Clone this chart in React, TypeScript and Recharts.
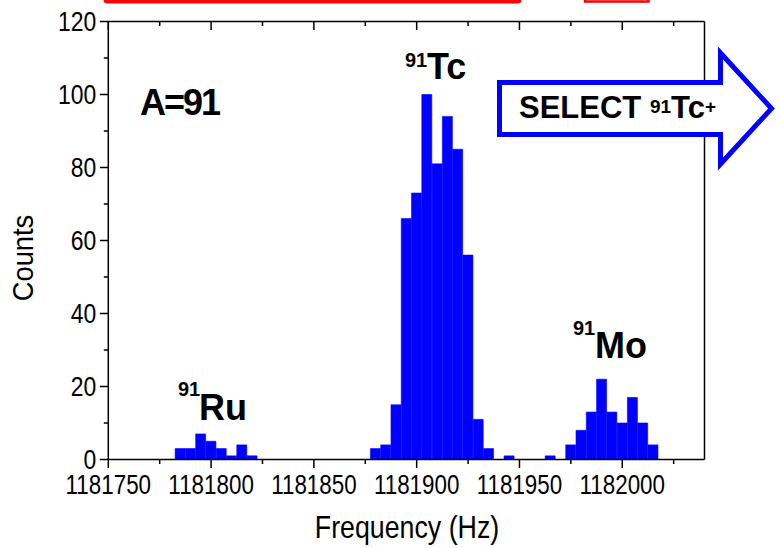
import { BarChart, Bar, XAxis, YAxis } from 'recharts';

// histogram bins (bin centre, Hz) and counts
const binFreqs = [
  1181785, 1181790, 1181795, 1181800, 1181805, 1181810, 1181815, 1181820,
  1181880, 1181885, 1181890, 1181895, 1181900, 1181905, 1181910, 1181915,
  1181920, 1181925, 1181930, 1181935,
  1181945, 1181965,
  1181975, 1181980, 1181985, 1181990, 1181995, 1182000, 1182005, 1182010, 1182015,
];
const binCounts = [
  3, 3, 7, 5, 3, 1, 4, 1,
  3, 4, 15, 66, 73, 100, 81, 94,
  85, 56, 11, 3,
  1, 1,
  4, 8, 13, 22, 13, 10, 17, 10, 4,
];

const xTicks = [
  1181750, 1181775, 1181800, 1181825, 1181850, 1181875, 1181900,
  1181925, 1181950, 1181975, 1182000, 1182025,
];
const xLabelled = [1181750, 1181800, 1181850, 1181900, 1181950, 1182000];
const yTicks = [0, 10, 20, 30, 40, 50, 60, 70, 80, 90, 100, 110, 120];
const yLabelled = [0, 20, 40, 60, 80, 100, 120];

const data = binFreqs.map((f, i) => ({ freq: f, count: binCounts[i] }));

const ARIAL = "'Liberation Sans', Arial, sans-serif";
const BLUE = '#0000ff';

// tick with major/minor length; the figure uses a narrow face for the numbers,
// so the regular face is squeezed horizontally
function makeTick(side: 'bottom' | 'top' | 'left' | 'right', labelled: number[]) {
  return (props: any) => {
    const { x, y, payload } = props;
    const major = labelled.includes(payload.value);
    const len = major ? 8.5 : 4.5;
    let line;
    if (side === 'bottom' || side === 'top') line = <line x1={x} x2={x} y1={y} y2={y + len} />;
    else line = <line x1={x} x2={x - len} y1={y} y2={y} />;
    return (
      <g stroke="#000" strokeWidth={1.5}>
        {line}
        {side === 'bottom' && major && (
          <text
            transform={`translate(${x},${y + 34}) scale(0.8,1)`}
            textAnchor="middle"
            fontSize={28}
            fontFamily={ARIAL}
            fill="#000"
            stroke="none"
          >
            {payload.value}
          </text>
        )}
        {side === 'left' && major && (
          <text
            transform={`translate(${x - 12},${y + 9}) scale(0.85,1)`}
            textAnchor="end"
            fontSize={27}
            fontFamily={ARIAL}
            fill="#000"
            stroke="none"
          >
            {payload.value}
          </text>
        )}
      </g>
    );
  };
}

const axisLine = { stroke: '#000', strokeWidth: 1.5 };

export default function App() {
  return (
    <div style={{ position: 'absolute', left: 0, top: 0, width: 779, height: 548, background: '#fff' }}>
      <BarChart
        width={779}
        height={548}
        data={data}
        margin={{ top: 0, right: 0, bottom: 0, left: 0 }}
        barCategoryGap={0}
        barGap={0}
      >
        <XAxis
          dataKey="freq"
          type="number"
          domain={[1181750, 1182040]}
          ticks={xTicks}
          interval={0}
          height={88.5}
          tickSize={0}
          tickMargin={0}
          tickLine={false}
          axisLine={axisLine}
          tick={makeTick('bottom', xLabelled)}
        />
        <XAxis
          xAxisId="top"
          dataKey="freq"
          type="number"
          orientation="top"
          domain={[1181750, 1182040]}
          ticks={xTicks}
          interval={0}
          height={21.5}
          tickSize={0}
          tickMargin={0}
          tickLine={false}
          axisLine={axisLine}
          tick={makeTick('top', xLabelled)}
        />
        <YAxis
          type="number"
          domain={[0, 120]}
          ticks={yTicks}
          interval={0}
          width={108.3}
          tickSize={0}
          tickMargin={0}
          tickLine={false}
          axisLine={axisLine}
          tick={makeTick('left', yLabelled)}
        />
        <YAxis
          yAxisId="right"
          orientation="right"
          type="number"
          domain={[0, 120]}
          ticks={yTicks}
          interval={0}
          width={74.5}
          tickSize={0}
          tickMargin={0}
          tickLine={false}
          axisLine={axisLine}
          tick={makeTick('right', yLabelled)}
        />
        <Bar dataKey="count" fill={BLUE} stroke={BLUE} strokeWidth={0.6} isAnimationActive={false} />
      </BarChart>

      {/* titles and annotations drawn over the plot */}
      <svg
        width={779}
        height={548}
        style={{ position: 'absolute', left: 0, top: 0, pointerEvents: 'none' }}
      >
        <text
          transform="translate(407,537.5) scale(0.85,1)"
          textAnchor="middle"
          fontSize={31.5}
          fontFamily={ARIAL}
        >
          Frequency (Hz)
        </text>
        <text
          transform="translate(33.2,258) rotate(-90) scale(0.91,1)"
          textAnchor="middle"
          fontSize={30}
          fontFamily={ARIAL}
        >
          Counts
        </text>

        <rect x={103.5} y={-5} width={418} height={8.5} rx={4} fill="#ff0000" />
        <rect x={585} y={-6} width={63.5} height={7.5} fill="none" stroke="#ff0000" strokeWidth={2.5} />

        <text x={140} y={115} fontSize={36} fontWeight="bold" fontFamily={ARIAL} letterSpacing={-2}>A=91</text>

        <text x={405} y={66.7} fontSize={20} fontWeight="bold" fontFamily={ARIAL}>91</text>
        <text x={427} y={79.3} fontSize={36} fontWeight="bold" fontFamily={ARIAL}>Tc</text>

        <text x={178} y={396} fontSize={20} fontWeight="bold" fontFamily={ARIAL}>91</text>
        <text x={199} y={420} fontSize={36} fontWeight="bold" fontFamily={ARIAL}>Ru</text>

        <text x={573} y={335} fontSize={20} fontWeight="bold" fontFamily={ARIAL}>91</text>
        <text x={595} y={358} fontSize={36} fontWeight="bold" fontFamily={ARIAL}>Mo</text>

        <path
          d="M499.5,82.5 H720.5 V53 L771.5,108.5 L720.5,164 V134.5 H499.5 Z"
          fill="#fff"
          stroke={BLUE}
          strokeWidth={5}
          strokeLinejoin="miter"
        />
        <text x={519} y={118} fontSize={31} fontWeight="bold" fontFamily={ARIAL}>
          SELECT <tspan fontSize={19} dy={-5}>91</tspan>
          <tspan fontSize={31} dy={5}>Tc</tspan>
          <tspan fontSize={19} dy={-5}>+</tspan>
        </text>
      </svg>
    </div>
  );
}
